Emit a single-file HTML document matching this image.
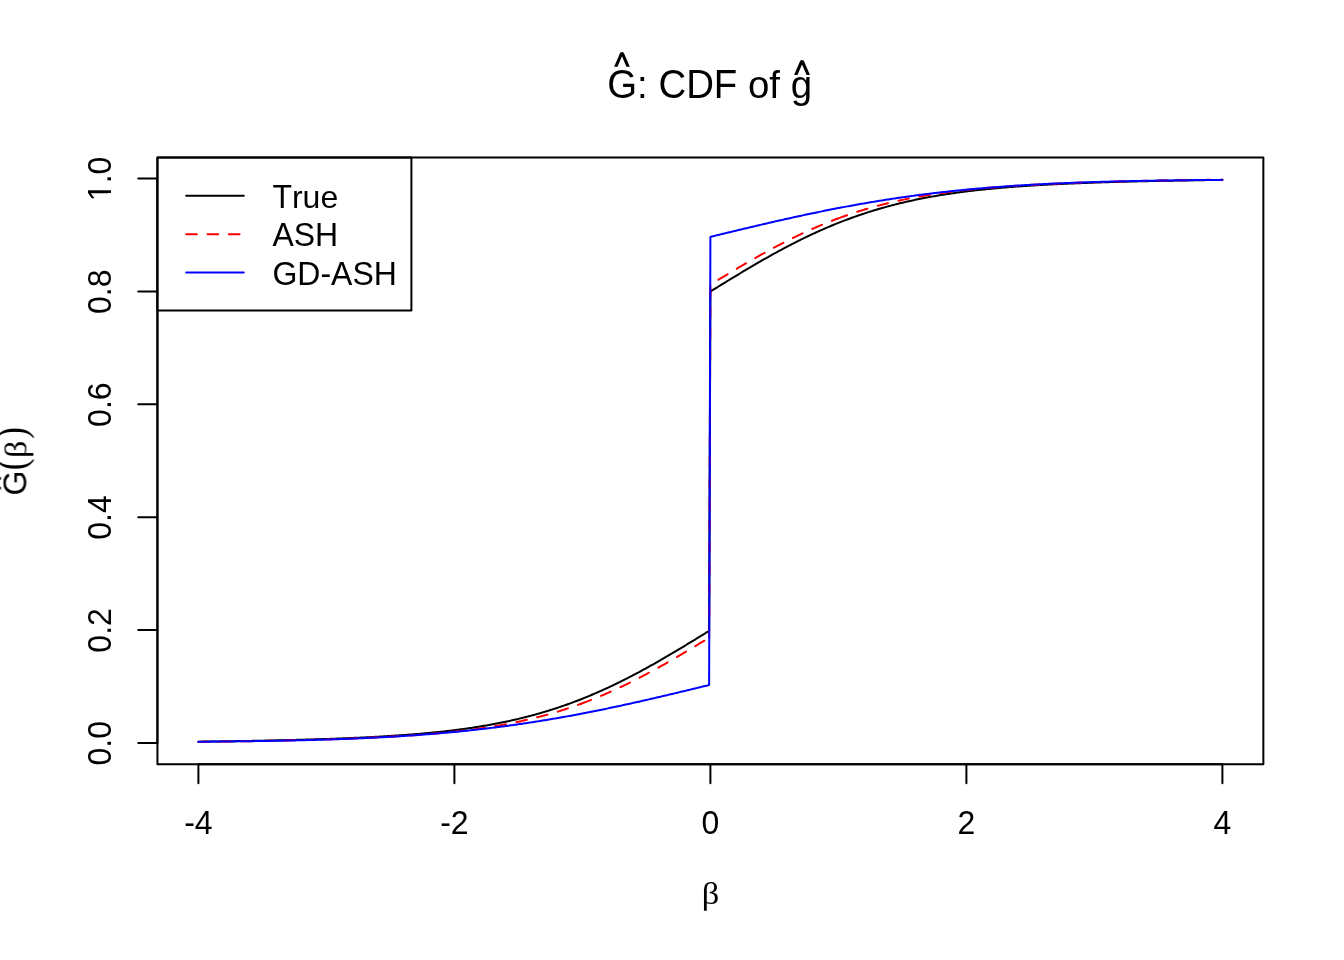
<!DOCTYPE html>
<html><head><meta charset="utf-8"><style>html,body{margin:0;padding:0;background:#fff;overflow:hidden}svg{display:block}</style></head>
<body>
<svg width="1344" height="960" viewBox="0 0 1344 960">
<rect width="1344" height="960" fill="#fff"/>
<defs><clipPath id="pc"><rect x="157.44" y="157.44" width="1105.9199999999998" height="606.72"/></clipPath></defs>
<g clip-path="url(#pc)" fill="none" stroke-width="2" stroke-linejoin="round" stroke-linecap="round">
<polyline points="198.40,741.68 199.68,741.67 200.96,741.65 202.24,741.63 203.52,741.62 204.80,741.60 206.08,741.59 207.36,741.57 208.64,741.55 209.92,741.53 211.20,741.52 212.48,741.50 213.76,741.48 215.04,741.47 216.32,741.45 217.60,741.43 218.88,741.41 220.16,741.39 221.44,741.37 222.72,741.36 224.00,741.34 225.28,741.32 226.56,741.30 227.84,741.28 229.12,741.26 230.40,741.24 231.68,741.22 232.96,741.20 234.24,741.18 235.52,741.16 236.80,741.14 238.08,741.12 239.36,741.09 240.64,741.07 241.92,741.05 243.20,741.03 244.48,741.01 245.76,740.98 247.04,740.96 248.32,740.94 249.60,740.92 250.88,740.89 252.16,740.87 253.44,740.84 254.72,740.82 256.00,740.80 257.28,740.77 258.56,740.75 259.84,740.72 261.12,740.70 262.40,740.67 263.68,740.64 264.96,740.62 266.24,740.59 267.52,740.56 268.80,740.54 270.08,740.51 271.36,740.48 272.64,740.45 273.92,740.43 275.20,740.40 276.48,740.37 277.76,740.34 279.04,740.31 280.32,740.28 281.60,740.25 282.88,740.22 284.16,740.19 285.44,740.16 286.72,740.13 288.00,740.10 289.28,740.06 290.56,740.03 291.84,740.00 293.12,739.97 294.40,739.93 295.68,739.90 296.96,739.87 298.24,739.83 299.52,739.80 300.80,739.76 302.08,739.73 303.36,739.69 304.64,739.65 305.92,739.62 307.20,739.58 308.48,739.54 309.76,739.50 311.04,739.47 312.32,739.43 313.60,739.39 314.88,739.35 316.16,739.31 317.44,739.27 318.72,739.23 320.00,739.19 321.28,739.14 322.56,739.10 323.84,739.06 325.12,739.01 326.40,738.97 327.68,738.93 328.96,738.88 330.24,738.84 331.52,738.79 332.80,738.74 334.08,738.70 335.36,738.65 336.64,738.60 337.92,738.55 339.20,738.50 340.48,738.45 341.76,738.40 343.04,738.35 344.32,738.30 345.60,738.25 346.88,738.20 348.16,738.14 349.44,738.09 350.72,738.04 352.00,737.98 353.28,737.92 354.56,737.87 355.84,737.81 357.12,737.75 358.40,737.69 359.68,737.63 360.96,737.57 362.24,737.51 363.52,737.45 364.80,737.39 366.08,737.32 367.36,737.26 368.64,737.20 369.92,737.13 371.20,737.06 372.48,737.00 373.76,736.93 375.04,736.86 376.32,736.79 377.60,736.72 378.88,736.65 380.16,736.57 381.44,736.50 382.72,736.43 384.00,736.35 385.28,736.27 386.56,736.20 387.84,736.12 389.12,736.04 390.40,735.96 391.68,735.87 392.96,735.79 394.24,735.71 395.52,735.62 396.80,735.54 398.08,735.45 399.36,735.36 400.64,735.27 401.92,735.18 403.20,735.09 404.48,734.99 405.76,734.90 407.04,734.80 408.32,734.71 409.60,734.61 410.88,734.51 412.16,734.41 413.44,734.31 414.72,734.20 416.00,734.10 417.28,733.99 418.56,733.88 419.84,733.77 421.12,733.66 422.40,733.55 423.68,733.43 424.96,733.32 426.24,733.20 427.52,733.08 428.80,732.96 430.08,732.84 431.36,732.71 432.64,732.59 433.92,732.46 435.20,732.33 436.48,732.20 437.76,732.07 439.04,731.93 440.32,731.80 441.60,731.66 442.88,731.52 444.16,731.37 445.44,731.23 446.72,731.08 448.00,730.94 449.28,730.79 450.56,730.63 451.84,730.48 453.12,730.32 454.40,730.16 455.68,730.00 456.96,729.84 458.24,729.68 459.52,729.51 460.80,729.34 462.08,729.17 463.36,728.99 464.64,728.82 465.92,728.64 467.20,728.45 468.48,728.27 469.76,728.08 471.04,727.90 472.32,727.70 473.60,727.51 474.88,727.31 476.16,727.11 477.44,726.91 478.72,726.71 480.00,726.50 481.28,726.29 482.56,726.08 483.84,725.86 485.12,725.64 486.40,725.42 487.68,725.20 488.96,724.97 490.24,724.74 491.52,724.51 492.80,724.27 494.08,724.03 495.36,723.79 496.64,723.54 497.92,723.29 499.20,723.04 500.48,722.79 501.76,722.53 503.04,722.27 504.32,722.00 505.60,721.74 506.88,721.46 508.16,721.19 509.44,720.91 510.72,720.63 512.00,720.35 513.28,720.06 514.56,719.77 515.84,719.47 517.12,719.17 518.40,718.87 519.68,718.56 520.96,718.25 522.24,717.94 523.52,717.62 524.80,717.30 526.08,716.98 527.36,716.65 528.64,716.32 529.92,715.98 531.20,715.64 532.48,715.30 533.76,714.95 535.04,714.60 536.32,714.24 537.60,713.89 538.88,713.52 540.16,713.16 541.44,712.78 542.72,712.41 544.00,712.03 545.28,711.65 546.56,711.26 547.84,710.87 549.12,710.47 550.40,710.07 551.68,709.67 552.96,709.26 554.24,708.85 555.52,708.43 556.80,708.01 558.08,707.59 559.36,707.16 560.64,706.72 561.92,706.29 563.20,705.84 564.48,705.40 565.76,704.95 567.04,704.49 568.32,704.03 569.60,703.57 570.88,703.10 572.16,702.63 573.44,702.15 574.72,701.67 576.00,701.19 577.28,700.70 578.56,700.20 579.84,699.71 581.12,699.20 582.40,698.70 583.68,698.19 584.96,697.67 586.24,697.15 587.52,696.63 588.80,696.10 590.08,695.56 591.36,695.03 592.64,694.49 593.92,693.94 595.20,693.39 596.48,692.84 597.76,692.28 599.04,691.71 600.32,691.15 601.60,690.58 602.88,690.00 604.16,689.42 605.44,688.84 606.72,688.25 608.00,687.66 609.28,687.06 610.56,686.46 611.84,685.85 613.12,685.25 614.40,684.63 615.68,684.02 616.96,683.39 618.24,682.77 619.52,682.14 620.80,681.51 622.08,680.87 623.36,680.23 624.64,679.59 625.92,678.94 627.20,678.29 628.48,677.63 629.76,676.97 631.04,676.31 632.32,675.64 633.60,674.97 634.88,674.30 636.16,673.62 637.44,672.94 638.72,672.26 640.00,671.57 641.28,670.88 642.56,670.19 643.84,669.49 645.12,668.79 646.40,668.09 647.68,667.38 648.96,666.67 650.24,665.96 651.52,665.24 652.80,664.52 654.08,663.80 655.36,663.08 656.64,662.35 657.92,661.62 659.20,660.89 660.48,660.15 661.76,659.41 663.04,658.67 664.32,657.93 665.60,657.19 666.88,656.44 668.16,655.69 669.44,654.94 670.72,654.18 672.00,653.43 673.28,652.67 674.56,651.91 675.84,651.15 677.12,650.38 678.40,649.62 679.68,648.85 680.96,648.08 682.24,647.31 683.52,646.54 684.80,645.77 686.08,644.99 687.36,644.22 688.64,643.44 689.92,642.66 691.20,641.88 692.48,641.10 693.76,640.32 695.04,639.54 696.32,638.75 697.60,637.97 698.88,637.18 700.16,636.40 701.44,635.61 702.72,634.83 704.00,634.04 705.28,633.25 706.56,632.46 707.84,631.68 709.12,630.89 710.40,291.49 711.68,290.70 712.96,289.91 714.24,289.13 715.52,288.34 716.80,287.55 718.08,286.76 719.36,285.98 720.64,285.19 721.92,284.41 723.20,283.62 724.48,282.84 725.76,282.05 727.04,281.27 728.32,280.49 729.60,279.71 730.88,278.93 732.16,278.15 733.44,277.37 734.72,276.60 736.00,275.82 737.28,275.05 738.56,274.28 739.84,273.51 741.12,272.74 742.40,271.97 743.68,271.21 744.96,270.44 746.24,269.68 747.52,268.92 748.80,268.16 750.08,267.41 751.36,266.65 752.64,265.90 753.92,265.15 755.20,264.40 756.48,263.66 757.76,262.92 759.04,262.18 760.32,261.44 761.60,260.70 762.88,259.97 764.16,259.24 765.44,258.51 766.72,257.79 768.00,257.07 769.28,256.35 770.56,255.63 771.84,254.92 773.12,254.21 774.40,253.50 775.68,252.80 776.96,252.10 778.24,251.40 779.52,250.71 780.80,250.02 782.08,249.33 783.36,248.65 784.64,247.97 785.92,247.29 787.20,246.62 788.48,245.95 789.76,245.28 791.04,244.62 792.32,243.96 793.60,243.30 794.88,242.65 796.16,242.00 797.44,241.36 798.72,240.72 800.00,240.08 801.28,239.45 802.56,238.82 803.84,238.20 805.12,237.57 806.40,236.96 807.68,236.34 808.96,235.74 810.24,235.13 811.52,234.53 812.80,233.93 814.08,233.34 815.36,232.75 816.64,232.17 817.92,231.59 819.20,231.01 820.48,230.44 821.76,229.88 823.04,229.31 824.32,228.75 825.60,228.20 826.88,227.65 828.16,227.10 829.44,226.56 830.72,226.03 832.00,225.49 833.28,224.96 834.56,224.44 835.84,223.92 837.12,223.40 838.40,222.89 839.68,222.39 840.96,221.88 842.24,221.39 843.52,220.89 844.80,220.40 846.08,219.92 847.36,219.44 848.64,218.96 849.92,218.49 851.20,218.02 852.48,217.56 853.76,217.10 855.04,216.64 856.32,216.19 857.60,215.75 858.88,215.30 860.16,214.87 861.44,214.43 862.72,214.00 864.00,213.58 865.28,213.16 866.56,212.74 867.84,212.33 869.12,211.92 870.40,211.52 871.68,211.12 872.96,210.72 874.24,210.33 875.52,209.94 876.80,209.56 878.08,209.18 879.36,208.81 880.64,208.43 881.92,208.07 883.20,207.70 884.48,207.35 885.76,206.99 887.04,206.64 888.32,206.29 889.60,205.95 890.88,205.61 892.16,205.27 893.44,204.94 894.72,204.61 896.00,204.29 897.28,203.97 898.56,203.65 899.84,203.34 901.12,203.03 902.40,202.72 903.68,202.42 904.96,202.12 906.24,201.82 907.52,201.53 908.80,201.24 910.08,200.96 911.36,200.68 912.64,200.40 913.92,200.13 915.20,199.85 916.48,199.59 917.76,199.32 919.04,199.06 920.32,198.80 921.60,198.55 922.88,198.30 924.16,198.05 925.44,197.80 926.72,197.56 928.00,197.32 929.28,197.08 930.56,196.85 931.84,196.62 933.12,196.39 934.40,196.17 935.68,195.95 936.96,195.73 938.24,195.51 939.52,195.30 940.80,195.09 942.08,194.88 943.36,194.68 944.64,194.48 945.92,194.28 947.20,194.08 948.48,193.89 949.76,193.69 951.04,193.51 952.32,193.32 953.60,193.14 954.88,192.95 956.16,192.77 957.44,192.60 958.72,192.42 960.00,192.25 961.28,192.08 962.56,191.91 963.84,191.75 965.12,191.59 966.40,191.43 967.68,191.27 968.96,191.11 970.24,190.96 971.52,190.80 972.80,190.65 974.08,190.51 975.36,190.36 976.64,190.22 977.92,190.07 979.20,189.93 980.48,189.79 981.76,189.66 983.04,189.52 984.32,189.39 985.60,189.26 986.88,189.13 988.16,189.00 989.44,188.88 990.72,188.75 992.00,188.63 993.28,188.51 994.56,188.39 995.84,188.27 997.12,188.16 998.40,188.04 999.68,187.93 1000.96,187.82 1002.24,187.71 1003.52,187.60 1004.80,187.49 1006.08,187.39 1007.36,187.28 1008.64,187.18 1009.92,187.08 1011.20,186.98 1012.48,186.88 1013.76,186.79 1015.04,186.69 1016.32,186.60 1017.60,186.50 1018.88,186.41 1020.16,186.32 1021.44,186.23 1022.72,186.14 1024.00,186.05 1025.28,185.97 1026.56,185.88 1027.84,185.80 1029.12,185.72 1030.40,185.63 1031.68,185.55 1032.96,185.47 1034.24,185.39 1035.52,185.32 1036.80,185.24 1038.08,185.16 1039.36,185.09 1040.64,185.02 1041.92,184.94 1043.20,184.87 1044.48,184.80 1045.76,184.73 1047.04,184.66 1048.32,184.59 1049.60,184.53 1050.88,184.46 1052.16,184.39 1053.44,184.33 1054.72,184.27 1056.00,184.20 1057.28,184.14 1058.56,184.08 1059.84,184.02 1061.12,183.96 1062.40,183.90 1063.68,183.84 1064.96,183.78 1066.24,183.72 1067.52,183.67 1068.80,183.61 1070.08,183.55 1071.36,183.50 1072.64,183.45 1073.92,183.39 1075.20,183.34 1076.48,183.29 1077.76,183.24 1079.04,183.19 1080.32,183.14 1081.60,183.09 1082.88,183.04 1084.16,182.99 1085.44,182.94 1086.72,182.89 1088.00,182.85 1089.28,182.80 1090.56,182.75 1091.84,182.71 1093.12,182.66 1094.40,182.62 1095.68,182.58 1096.96,182.53 1098.24,182.49 1099.52,182.45 1100.80,182.40 1102.08,182.36 1103.36,182.32 1104.64,182.28 1105.92,182.24 1107.20,182.20 1108.48,182.16 1109.76,182.12 1111.04,182.09 1112.32,182.05 1113.60,182.01 1114.88,181.97 1116.16,181.94 1117.44,181.90 1118.72,181.86 1120.00,181.83 1121.28,181.79 1122.56,181.76 1123.84,181.72 1125.12,181.69 1126.40,181.66 1127.68,181.62 1128.96,181.59 1130.24,181.56 1131.52,181.53 1132.80,181.49 1134.08,181.46 1135.36,181.43 1136.64,181.40 1137.92,181.37 1139.20,181.34 1140.48,181.31 1141.76,181.28 1143.04,181.25 1144.32,181.22 1145.60,181.19 1146.88,181.16 1148.16,181.14 1149.44,181.11 1150.72,181.08 1152.00,181.05 1153.28,181.03 1154.56,181.00 1155.84,180.97 1157.12,180.95 1158.40,180.92 1159.68,180.89 1160.96,180.87 1162.24,180.84 1163.52,180.82 1164.80,180.79 1166.08,180.77 1167.36,180.75 1168.64,180.72 1169.92,180.70 1171.20,180.67 1172.48,180.65 1173.76,180.63 1175.04,180.61 1176.32,180.58 1177.60,180.56 1178.88,180.54 1180.16,180.52 1181.44,180.50 1182.72,180.47 1184.00,180.45 1185.28,180.43 1186.56,180.41 1187.84,180.39 1189.12,180.37 1190.40,180.35 1191.68,180.33 1192.96,180.31 1194.24,180.29 1195.52,180.27 1196.80,180.25 1198.08,180.23 1199.36,180.22 1200.64,180.20 1201.92,180.18 1203.20,180.16 1204.48,180.14 1205.76,180.12 1207.04,180.11 1208.32,180.09 1209.60,180.07 1210.88,180.06 1212.16,180.04 1213.44,180.02 1214.72,180.00 1216.00,179.99 1217.28,179.97 1218.56,179.96 1219.84,179.94 1221.12,179.92 1222.40,179.91" stroke="#000"/>
<g stroke="#ff0000" stroke-dasharray="10.667 10.667" stroke-dashoffset="0">
<polyline points="198.40,741.90 199.68,741.89 200.96,741.87 202.24,741.86 203.52,741.84 204.80,741.83 206.08,741.81 207.36,741.80 208.64,741.78 209.92,741.77 211.20,741.75 212.48,741.74 213.76,741.72 215.04,741.70 216.32,741.69 217.60,741.67 218.88,741.65 220.16,741.64 221.44,741.62 222.72,741.60 224.00,741.59 225.28,741.57 226.56,741.55 227.84,741.53 229.12,741.52 230.40,741.50 231.68,741.48 232.96,741.46 234.24,741.44 235.52,741.42 236.80,741.40 238.08,741.38 239.36,741.36 240.64,741.34 241.92,741.32 243.20,741.30 244.48,741.28 245.76,741.26 247.04,741.24 248.32,741.22 249.60,741.20 250.88,741.18 252.16,741.15 253.44,741.13 254.72,741.11 256.00,741.09 257.28,741.06 258.56,741.04 259.84,741.02 261.12,740.99 262.40,740.97 263.68,740.94 264.96,740.92 266.24,740.90 267.52,740.87 268.80,740.85 270.08,740.82 271.36,740.79 272.64,740.77 273.92,740.74 275.20,740.72 276.48,740.69 277.76,740.66 279.04,740.63 280.32,740.61 281.60,740.58 282.88,740.55 284.16,740.52 285.44,740.49 286.72,740.46 288.00,740.44 289.28,740.41 290.56,740.38 291.84,740.35 293.12,740.31 294.40,740.28 295.68,740.25 296.96,740.22 298.24,740.19 299.52,740.16 300.80,740.12 302.08,740.09 303.36,740.06 304.64,740.02 305.92,739.99 307.20,739.96 308.48,739.92 309.76,739.89 311.04,739.85 312.32,739.81 313.60,739.78 314.88,739.74 316.16,739.70 317.44,739.67 318.72,739.63 320.00,739.59 321.28,739.55 322.56,739.51 323.84,739.47 325.12,739.43"/>
<polyline points="325.12,739.43 326.40,739.39 327.68,739.35 328.96,739.31 330.24,739.27 331.52,739.23 332.80,739.19 334.08,739.14 335.36,739.10 336.64,739.06 337.92,739.01 339.20,738.97 340.48,738.92 341.76,738.87 343.04,738.83 344.32,738.78 345.60,738.73 346.88,738.69 348.16,738.64 349.44,738.59 350.72,738.54 352.00,738.49 353.28,738.44 354.56,738.39 355.84,738.33 357.12,738.28 358.40,738.23 359.68,738.18 360.96,738.12 362.24,738.07 363.52,738.01 364.80,737.95 366.08,737.90 367.36,737.84 368.64,737.78 369.92,737.72 371.20,737.66 372.48,737.60 373.76,737.54 375.04,737.48 376.32,737.42 377.60,737.35 378.88,737.29 380.16,737.23 381.44,737.16 382.72,737.09 384.00,737.03 385.28,736.96 386.56,736.89 387.84,736.82 389.12,736.75 390.40,736.68 391.68,736.61 392.96,736.53 394.24,736.46 395.52,736.38 396.80,736.31 398.08,736.23 399.36,736.15 400.64,736.07 401.92,735.99 403.20,735.91 404.48,735.83 405.76,735.75 407.04,735.66 408.32,735.58 409.60,735.49 410.88,735.41 412.16,735.32 413.44,735.23 414.72,735.14 416.00,735.04 417.28,734.95 418.56,734.86 419.84,734.76 421.12,734.66 422.40,734.56 423.68,734.47 424.96,734.36 426.24,734.26 427.52,734.16 428.80,734.05 430.08,733.95 431.36,733.84 432.64,733.73 433.92,733.62 435.20,733.51 436.48,733.39 437.76,733.28 439.04,733.16 440.32,733.04 441.60,732.92 442.88,732.80 444.16,732.68 445.44,732.55 446.72,732.42 448.00,732.29 449.28,732.16 450.56,732.03 451.84,731.90 453.12,731.76"/>
<polyline points="453.12,731.76 454.40,731.62 455.68,731.48 456.96,731.34 458.24,731.20 459.52,731.05 460.80,730.91 462.08,730.76 463.36,730.60 464.64,730.45 465.92,730.29 467.20,730.14 468.48,729.98 469.76,729.81 471.04,729.65 472.32,729.48 473.60,729.31 474.88,729.14 476.16,728.97 477.44,728.79 478.72,728.61 480.00,728.43 481.28,728.25 482.56,728.06 483.84,727.87 485.12,727.68 486.40,727.49 487.68,727.29 488.96,727.09 490.24,726.89 491.52,726.68 492.80,726.48 494.08,726.27 495.36,726.05 496.64,725.84 497.92,725.62 499.20,725.40 500.48,725.17 501.76,724.94 503.04,724.71 504.32,724.48 505.60,724.24 506.88,724.00 508.16,723.76 509.44,723.51 510.72,723.26 512.00,723.01 513.28,722.75 514.56,722.49 515.84,722.23 517.12,721.97 518.40,721.70 519.68,721.42 520.96,721.15 522.24,720.87 523.52,720.58 524.80,720.30 526.08,720.01 527.36,719.71 528.64,719.41 529.92,719.11 531.20,718.81 532.48,718.50 533.76,718.18 535.04,717.87 536.32,717.55 537.60,717.22 538.88,716.89 540.16,716.56 541.44,716.23 542.72,715.89 544.00,715.54 545.28,715.19 546.56,714.84 547.84,714.49 549.12,714.12 550.40,713.76 551.68,713.39 552.96,713.02 554.24,712.64 555.52,712.26 556.80,711.88 558.08,711.49 559.36,711.09 560.64,710.70 561.92,710.29 563.20,709.89 564.48,709.48 565.76,709.06 567.04,708.64 568.32,708.22 569.60,707.79 570.88,707.36 572.16,706.92 573.44,706.48 574.72,706.03 576.00,705.58 577.28,705.13 578.56,704.67 579.84,704.20 581.12,703.74"/>
<polyline points="581.12,703.74 582.40,703.26 583.68,702.79 584.96,702.31 586.24,701.82 587.52,701.33 588.80,700.83 590.08,700.33 591.36,699.83 592.64,699.32 593.92,698.81 595.20,698.29 596.48,697.77 597.76,697.24 599.04,696.71 600.32,696.18 601.60,695.64 602.88,695.09 604.16,694.55 605.44,693.99 606.72,693.44 608.00,692.87 609.28,692.31 610.56,691.74 611.84,691.16 613.12,690.58 614.40,690.00 615.68,689.41 616.96,688.82 618.24,688.23 619.52,687.63 620.80,687.02 622.08,686.41 623.36,685.80 624.64,685.18 625.92,684.56 627.20,683.94 628.48,683.31 629.76,682.68 631.04,682.04 632.32,681.40 633.60,680.76 634.88,680.11 636.16,679.46 637.44,678.80 638.72,678.14 640.00,677.48 641.28,676.81 642.56,676.14 643.84,675.47 645.12,674.79 646.40,674.11 647.68,673.43 648.96,672.74 650.24,672.05 651.52,671.36 652.80,670.66 654.08,669.96 655.36,669.26 656.64,668.55 657.92,667.84 659.20,667.13 660.48,666.42 661.76,665.70 663.04,664.98 664.32,664.26 665.60,663.53 666.88,662.81 668.16,662.08 669.44,661.34 670.72,660.61 672.00,659.87 673.28,659.13 674.56,658.39 675.84,657.65 677.12,656.90 678.40,656.15 679.68,655.40 680.96,654.65 682.24,653.90 683.52,653.14 684.80,652.39 686.08,651.63 687.36,650.87 688.64,650.11 689.92,649.35 691.20,648.58 692.48,647.82 693.76,647.05 695.04,646.29 696.32,645.52 697.60,644.75 698.88,643.98 700.16,643.21 701.44,642.44 702.72,641.67 704.00,640.90 705.28,640.13 706.56,639.36 707.84,638.59 709.12,637.81"/>
<polyline points="709.12,637.81 710.40,284.55 711.68,283.78 712.96,283.00 714.24,282.23 715.52,281.46 716.80,280.69 718.08,279.92 719.36,279.15 720.64,278.38 721.92,277.61 723.20,276.84 724.48,276.07 725.76,275.30 727.04,274.54 728.32,273.77 729.60,273.01 730.88,272.24 732.16,271.48 733.44,270.72 734.72,269.96 736.00,269.20 737.28,268.45 738.56,267.69 739.84,266.94 741.12,266.19 742.40,265.44 743.68,264.69 744.96,263.94 746.24,263.20 747.52,262.46 748.80,261.72 750.08,260.98 751.36,260.25 752.64,259.51 753.92,258.78 755.20,258.06 756.48,257.33 757.76,256.61 759.04,255.89 760.32,255.17 761.60,254.46 762.88,253.75 764.16,253.04 765.44,252.33 766.72,251.63 768.00,250.93 769.28,250.23 770.56,249.54 771.84,248.85 773.12,248.16 774.40,247.48 775.68,246.80 776.96,246.12 778.24,245.45 779.52,244.78 780.80,244.11 782.08,243.45 783.36,242.79 784.64,242.13 785.92,241.48 787.20,240.83 788.48,240.19 789.76,239.55 791.04,238.91 792.32,238.28 793.60,237.65 794.88,237.03 796.16,236.41 797.44,235.79 798.72,235.18 800.00,234.57 801.28,233.96 802.56,233.36 803.84,232.77 805.12,232.18 806.40,231.59 807.68,231.01 808.96,230.43 810.24,229.85 811.52,229.28 812.80,228.72 814.08,228.15 815.36,227.60 816.64,227.04 817.92,226.50 819.20,225.95 820.48,225.41 821.76,224.88 823.04,224.35 824.32,223.82 825.60,223.30 826.88,222.78 828.16,222.27 829.44,221.76 830.72,221.26 832.00,220.76 833.28,220.26 834.56,219.77 835.84,219.28 837.12,218.80"/>
<polyline points="837.12,218.80 838.40,218.33 839.68,217.85 840.96,217.39 842.24,216.92 843.52,216.46 844.80,216.01 846.08,215.56 847.36,215.11 848.64,214.67 849.92,214.23 851.20,213.80 852.48,213.37 853.76,212.95 855.04,212.53 856.32,212.11 857.60,211.70 858.88,211.30 860.16,210.89 861.44,210.50 862.72,210.10 864.00,209.71 865.28,209.33 866.56,208.95 867.84,208.57 869.12,208.20 870.40,207.83 871.68,207.47 872.96,207.10 874.24,206.75 875.52,206.40 876.80,206.05 878.08,205.70 879.36,205.36 880.64,205.03 881.92,204.70 883.20,204.37 884.48,204.04 885.76,203.72 887.04,203.41 888.32,203.09 889.60,202.78 890.88,202.48 892.16,202.18 893.44,201.88 894.72,201.58 896.00,201.29 897.28,201.01 898.56,200.72 899.84,200.44 901.12,200.17 902.40,199.89 903.68,199.62 904.96,199.36 906.24,199.10 907.52,198.84 908.80,198.58 910.08,198.33 911.36,198.08 912.64,197.83 913.92,197.59 915.20,197.35 916.48,197.11 917.76,196.88 919.04,196.65 920.32,196.42 921.60,196.19 922.88,195.97 924.16,195.75 925.44,195.54 926.72,195.32 928.00,195.11 929.28,194.91 930.56,194.70 931.84,194.50 933.12,194.30 934.40,194.10 935.68,193.91 936.96,193.72 938.24,193.53 939.52,193.34 940.80,193.16 942.08,192.98 943.36,192.80 944.64,192.62 945.92,192.45 947.20,192.28 948.48,192.11 949.76,191.94 951.04,191.78 952.32,191.61 953.60,191.45 954.88,191.30 956.16,191.14 957.44,190.99 958.72,190.83 960.00,190.68 961.28,190.54 962.56,190.39 963.84,190.25 965.12,190.11"/>
<polyline points="965.12,190.11 966.40,189.97 967.68,189.83 968.96,189.69 970.24,189.56 971.52,189.43 972.80,189.30 974.08,189.17 975.36,189.04 976.64,188.91 977.92,188.79 979.20,188.67 980.48,188.55 981.76,188.43 983.04,188.31 984.32,188.20 985.60,188.08 986.88,187.97 988.16,187.86 989.44,187.75 990.72,187.64 992.00,187.54 993.28,187.43 994.56,187.33 995.84,187.23 997.12,187.12 998.40,187.03 999.68,186.93 1000.96,186.83 1002.24,186.73 1003.52,186.64 1004.80,186.55 1006.08,186.45 1007.36,186.36 1008.64,186.27 1009.92,186.18 1011.20,186.10 1012.48,186.01 1013.76,185.93 1015.04,185.84 1016.32,185.76 1017.60,185.68 1018.88,185.60 1020.16,185.52 1021.44,185.44 1022.72,185.36 1024.00,185.28 1025.28,185.21 1026.56,185.13 1027.84,185.06 1029.12,184.98 1030.40,184.91 1031.68,184.84 1032.96,184.77 1034.24,184.70 1035.52,184.63 1036.80,184.56 1038.08,184.50 1039.36,184.43 1040.64,184.36 1041.92,184.30 1043.20,184.24 1044.48,184.17 1045.76,184.11 1047.04,184.05 1048.32,183.99 1049.60,183.93 1050.88,183.87 1052.16,183.81 1053.44,183.75 1054.72,183.69 1056.00,183.64 1057.28,183.58 1058.56,183.52 1059.84,183.47 1061.12,183.41 1062.40,183.36 1063.68,183.31 1064.96,183.26 1066.24,183.20 1067.52,183.15 1068.80,183.10 1070.08,183.05 1071.36,183.00 1072.64,182.95 1073.92,182.90 1075.20,182.86 1076.48,182.81 1077.76,182.76 1079.04,182.72 1080.32,182.67 1081.60,182.62 1082.88,182.58 1084.16,182.53 1085.44,182.49 1086.72,182.45 1088.00,182.40 1089.28,182.36 1090.56,182.32 1091.84,182.28 1093.12,182.24"/>
<polyline points="1093.12,182.24 1094.40,182.20 1095.68,182.16 1096.96,182.12 1098.24,182.08 1099.52,182.04 1100.80,182.00 1102.08,181.96 1103.36,181.92 1104.64,181.89 1105.92,181.85 1107.20,181.81 1108.48,181.78 1109.76,181.74 1111.04,181.70 1112.32,181.67 1113.60,181.63 1114.88,181.60 1116.16,181.57 1117.44,181.53 1118.72,181.50 1120.00,181.47 1121.28,181.43 1122.56,181.40 1123.84,181.37 1125.12,181.34 1126.40,181.31 1127.68,181.28 1128.96,181.24 1130.24,181.21 1131.52,181.18 1132.80,181.15 1134.08,181.13 1135.36,181.10 1136.64,181.07 1137.92,181.04 1139.20,181.01 1140.48,180.98 1141.76,180.96 1143.04,180.93 1144.32,180.90 1145.60,180.87 1146.88,180.85 1148.16,180.82 1149.44,180.80 1150.72,180.77 1152.00,180.74 1153.28,180.72 1154.56,180.69 1155.84,180.67 1157.12,180.65 1158.40,180.62 1159.68,180.60 1160.96,180.57 1162.24,180.55 1163.52,180.53 1164.80,180.50 1166.08,180.48 1167.36,180.46 1168.64,180.44 1169.92,180.41 1171.20,180.39 1172.48,180.37 1173.76,180.35 1175.04,180.33 1176.32,180.31 1177.60,180.29 1178.88,180.27 1180.16,180.25 1181.44,180.23 1182.72,180.21 1184.00,180.19 1185.28,180.17 1186.56,180.15 1187.84,180.13 1189.12,180.11 1190.40,180.09 1191.68,180.07 1192.96,180.06 1194.24,180.04 1195.52,180.02 1196.80,180.00 1198.08,179.99 1199.36,179.97 1200.64,179.95 1201.92,179.94 1203.20,179.92 1204.48,179.90 1205.76,179.89 1207.04,179.87 1208.32,179.85 1209.60,179.84 1210.88,179.82 1212.16,179.81 1213.44,179.79 1214.72,179.78 1216.00,179.76 1217.28,179.75 1218.56,179.73 1219.84,179.72 1221.12,179.70"/>
<polyline points="1221.12,179.70 1222.40,179.69"/>
</g>
<polyline points="198.40,741.72 199.68,741.72 200.96,741.71 202.24,741.69 203.52,741.68 204.80,741.67 206.08,741.66 207.36,741.65 208.64,741.64 209.92,741.63 211.20,741.62 212.48,741.61 213.76,741.60 215.04,741.58 216.32,741.57 217.60,741.56 218.88,741.55 220.16,741.54 221.44,741.52 222.72,741.51 224.00,741.50 225.28,741.48 226.56,741.47 227.84,741.46 229.12,741.44 230.40,741.43 231.68,741.42 232.96,741.40 234.24,741.39 235.52,741.37 236.80,741.36 238.08,741.34 239.36,741.33 240.64,741.31 241.92,741.29 243.20,741.28 244.48,741.26 245.76,741.25 247.04,741.23 248.32,741.21 249.60,741.19 250.88,741.18 252.16,741.16 253.44,741.14 254.72,741.12 256.00,741.10 257.28,741.08 258.56,741.07 259.84,741.05 261.12,741.03 262.40,741.01 263.68,740.99 264.96,740.97 266.24,740.95 267.52,740.92 268.80,740.90 270.08,740.88 271.36,740.86 272.64,740.84 273.92,740.81 275.20,740.79 276.48,740.77 277.76,740.74 279.04,740.72 280.32,740.70 281.60,740.67 282.88,740.65 284.16,740.62 285.44,740.59 286.72,740.57 288.00,740.54 289.28,740.52 290.56,740.49 291.84,740.46 293.12,740.43 294.40,740.40 295.68,740.38 296.96,740.35 298.24,740.32 299.52,740.29 300.80,740.26 302.08,740.23 303.36,740.19 304.64,740.16 305.92,740.13 307.20,740.10 308.48,740.06 309.76,740.03 311.04,740.00 312.32,739.96 313.60,739.93 314.88,739.89 316.16,739.86 317.44,739.82 318.72,739.78 320.00,739.75 321.28,739.71 322.56,739.67 323.84,739.63 325.12,739.59 326.40,739.55 327.68,739.51 328.96,739.47 330.24,739.43 331.52,739.39 332.80,739.35 334.08,739.30 335.36,739.26 336.64,739.22 337.92,739.17 339.20,739.13 340.48,739.08 341.76,739.04 343.04,738.99 344.32,738.94 345.60,738.89 346.88,738.84 348.16,738.79 349.44,738.74 350.72,738.69 352.00,738.64 353.28,738.59 354.56,738.54 355.84,738.48 357.12,738.43 358.40,738.38 359.68,738.32 360.96,738.26 362.24,738.21 363.52,738.15 364.80,738.09 366.08,738.03 367.36,737.97 368.64,737.91 369.92,737.85 371.20,737.79 372.48,737.73 373.76,737.67 375.04,737.60 376.32,737.54 377.60,737.47 378.88,737.41 380.16,737.34 381.44,737.27 382.72,737.20 384.00,737.14 385.28,737.07 386.56,736.99 387.84,736.92 389.12,736.85 390.40,736.78 391.68,736.70 392.96,736.63 394.24,736.55 395.52,736.48 396.80,736.40 398.08,736.32 399.36,736.24 400.64,736.16 401.92,736.08 403.20,736.00 404.48,735.92 405.76,735.83 407.04,735.75 408.32,735.66 409.60,735.58 410.88,735.49 412.16,735.40 413.44,735.31 414.72,735.22 416.00,735.13 417.28,735.04 418.56,734.94 419.84,734.85 421.12,734.76 422.40,734.66 423.68,734.56 424.96,734.46 426.24,734.37 427.52,734.27 428.80,734.17 430.08,734.06 431.36,733.96 432.64,733.86 433.92,733.75 435.20,733.65 436.48,733.54 437.76,733.43 439.04,733.32 440.32,733.21 441.60,733.10 442.88,732.99 444.16,732.87 445.44,732.76 446.72,732.64 448.00,732.53 449.28,732.41 450.56,732.29 451.84,732.17 453.12,732.05 454.40,731.92 455.68,731.80 456.96,731.68 458.24,731.55 459.52,731.42 460.80,731.30 462.08,731.17 463.36,731.04 464.64,730.90 465.92,730.77 467.20,730.64 468.48,730.50 469.76,730.37 471.04,730.23 472.32,730.09 473.60,729.95 474.88,729.81 476.16,729.67 477.44,729.52 478.72,729.38 480.00,729.23 481.28,729.09 482.56,728.94 483.84,728.79 485.12,728.64 486.40,728.49 487.68,728.33 488.96,728.18 490.24,728.02 491.52,727.87 492.80,727.71 494.08,727.55 495.36,727.39 496.64,727.23 497.92,727.06 499.20,726.90 500.48,726.73 501.76,726.57 503.04,726.40 504.32,726.23 505.60,726.06 506.88,725.89 508.16,725.71 509.44,725.54 510.72,725.36 512.00,725.19 513.28,725.01 514.56,724.83 515.84,724.65 517.12,724.47 518.40,724.28 519.68,724.10 520.96,723.91 522.24,723.73 523.52,723.54 524.80,723.35 526.08,723.16 527.36,722.96 528.64,722.77 529.92,722.58 531.20,722.38 532.48,722.18 533.76,721.98 535.04,721.78 536.32,721.58 537.60,721.38 538.88,721.18 540.16,720.97 541.44,720.76 542.72,720.56 544.00,720.35 545.28,720.14 546.56,719.93 547.84,719.71 549.12,719.50 550.40,719.28 551.68,719.07 552.96,718.85 554.24,718.63 555.52,718.41 556.80,718.19 558.08,717.97 559.36,717.74 560.64,717.52 561.92,717.29 563.20,717.07 564.48,716.84 565.76,716.61 567.04,716.38 568.32,716.14 569.60,715.91 570.88,715.67 572.16,715.44 573.44,715.20 574.72,714.96 576.00,714.72 577.28,714.48 578.56,714.24 579.84,714.00 581.12,713.75 582.40,713.51 583.68,713.26 584.96,713.01 586.24,712.77 587.52,712.52 588.80,712.27 590.08,712.01 591.36,711.76 592.64,711.51 593.92,711.25 595.20,710.99 596.48,710.74 597.76,710.48 599.04,710.22 600.32,709.96 601.60,709.70 602.88,709.43 604.16,709.17 605.44,708.90 606.72,708.64 608.00,708.37 609.28,708.10 610.56,707.84 611.84,707.57 613.12,707.29 614.40,707.02 615.68,706.75 616.96,706.48 618.24,706.20 619.52,705.93 620.80,705.65 622.08,705.37 623.36,705.09 624.64,704.82 625.92,704.54 627.20,704.26 628.48,703.97 629.76,703.69 631.04,703.41 632.32,703.12 633.60,702.84 634.88,702.55 636.16,702.27 637.44,701.98 638.72,701.69 640.00,701.40 641.28,701.11 642.56,700.82 643.84,700.53 645.12,700.24 646.40,699.95 647.68,699.65 648.96,699.36 650.24,699.07 651.52,698.77 652.80,698.48 654.08,698.18 655.36,697.88 656.64,697.58 657.92,697.29 659.20,696.99 660.48,696.69 661.76,696.39 663.04,696.09 664.32,695.79 665.60,695.49 666.88,695.18 668.16,694.88 669.44,694.58 670.72,694.28 672.00,693.97 673.28,693.67 674.56,693.36 675.84,693.06 677.12,692.75 678.40,692.45 679.68,692.14 680.96,691.84 682.24,691.53 683.52,691.22 684.80,690.92 686.08,690.61 687.36,690.30 688.64,689.99 689.92,689.68 691.20,689.38 692.48,689.07 693.76,688.76 695.04,688.45 696.32,688.14 697.60,687.83 698.88,687.52 700.16,687.21 701.44,686.90 702.72,686.59 704.00,686.28 705.28,685.97 706.56,685.66 707.84,685.35 709.12,685.04 710.40,236.86 711.68,236.55 712.96,236.24 714.24,235.93 715.52,235.62 716.80,235.31 718.08,235.00 719.36,234.69 720.64,234.38 721.92,234.07 723.20,233.76 724.48,233.45 725.76,233.14 727.04,232.83 728.32,232.52 729.60,232.21 730.88,231.91 732.16,231.60 733.44,231.29 734.72,230.98 736.00,230.67 737.28,230.37 738.56,230.06 739.84,229.75 741.12,229.45 742.40,229.14 743.68,228.84 744.96,228.53 746.24,228.23 747.52,227.92 748.80,227.62 750.08,227.31 751.36,227.01 752.64,226.71 753.92,226.41 755.20,226.10 756.48,225.80 757.76,225.50 759.04,225.20 760.32,224.90 761.60,224.60 762.88,224.30 764.16,224.01 765.44,223.71 766.72,223.41 768.00,223.11 769.28,222.82 770.56,222.52 771.84,222.23 773.12,221.94 774.40,221.64 775.68,221.35 776.96,221.06 778.24,220.77 779.52,220.48 780.80,220.19 782.08,219.90 783.36,219.61 784.64,219.32 785.92,219.04 787.20,218.75 788.48,218.47 789.76,218.18 791.04,217.90 792.32,217.62 793.60,217.33 794.88,217.05 796.16,216.77 797.44,216.50 798.72,216.22 800.00,215.94 801.28,215.66 802.56,215.39 803.84,215.11 805.12,214.84 806.40,214.57 807.68,214.30 808.96,214.02 810.24,213.75 811.52,213.49 812.80,213.22 814.08,212.95 815.36,212.69 816.64,212.42 817.92,212.16 819.20,211.89 820.48,211.63 821.76,211.37 823.04,211.11 824.32,210.85 825.60,210.60 826.88,210.34 828.16,210.08 829.44,209.83 830.72,209.58 832.00,209.32 833.28,209.07 834.56,208.82 835.84,208.58 837.12,208.33 838.40,208.08 839.68,207.84 840.96,207.59 842.24,207.35 843.52,207.11 844.80,206.87 846.08,206.63 847.36,206.39 848.64,206.15 849.92,205.92 851.20,205.68 852.48,205.45 853.76,205.21 855.04,204.98 856.32,204.75 857.60,204.52 858.88,204.30 860.16,204.07 861.44,203.85 862.72,203.62 864.00,203.40 865.28,203.18 866.56,202.96 867.84,202.74 869.12,202.52 870.40,202.31 871.68,202.09 872.96,201.88 874.24,201.66 875.52,201.45 876.80,201.24 878.08,201.03 879.36,200.83 880.64,200.62 881.92,200.41 883.20,200.21 884.48,200.01 885.76,199.81 887.04,199.61 888.32,199.41 889.60,199.21 890.88,199.01 892.16,198.82 893.44,198.63 894.72,198.43 896.00,198.24 897.28,198.05 898.56,197.86 899.84,197.68 901.12,197.49 902.40,197.31 903.68,197.12 904.96,196.94 906.24,196.76 907.52,196.58 908.80,196.40 910.08,196.23 911.36,196.05 912.64,195.88 913.92,195.70 915.20,195.53 916.48,195.36 917.76,195.19 919.04,195.02 920.32,194.86 921.60,194.69 922.88,194.53 924.16,194.36 925.44,194.20 926.72,194.04 928.00,193.88 929.28,193.72 930.56,193.57 931.84,193.41 933.12,193.26 934.40,193.10 935.68,192.95 936.96,192.80 938.24,192.65 939.52,192.50 940.80,192.36 942.08,192.21 943.36,192.07 944.64,191.92 945.92,191.78 947.20,191.64 948.48,191.50 949.76,191.36 951.04,191.22 952.32,191.09 953.60,190.95 954.88,190.82 956.16,190.69 957.44,190.55 958.72,190.42 960.00,190.29 961.28,190.17 962.56,190.04 963.84,189.91 965.12,189.79 966.40,189.67 967.68,189.54 968.96,189.42 970.24,189.30 971.52,189.18 972.80,189.06 974.08,188.95 975.36,188.83 976.64,188.72 977.92,188.60 979.20,188.49 980.48,188.38 981.76,188.27 983.04,188.16 984.32,188.05 985.60,187.94 986.88,187.84 988.16,187.73 989.44,187.63 990.72,187.53 992.00,187.42 993.28,187.32 994.56,187.22 995.84,187.13 997.12,187.03 998.40,186.93 999.68,186.83 1000.96,186.74 1002.24,186.65 1003.52,186.55 1004.80,186.46 1006.08,186.37 1007.36,186.28 1008.64,186.19 1009.92,186.10 1011.20,186.01 1012.48,185.93 1013.76,185.84 1015.04,185.76 1016.32,185.67 1017.60,185.59 1018.88,185.51 1020.16,185.43 1021.44,185.35 1022.72,185.27 1024.00,185.19 1025.28,185.11 1026.56,185.04 1027.84,184.96 1029.12,184.89 1030.40,184.81 1031.68,184.74 1032.96,184.67 1034.24,184.60 1035.52,184.52 1036.80,184.45 1038.08,184.39 1039.36,184.32 1040.64,184.25 1041.92,184.18 1043.20,184.12 1044.48,184.05 1045.76,183.99 1047.04,183.92 1048.32,183.86 1049.60,183.80 1050.88,183.74 1052.16,183.68 1053.44,183.62 1054.72,183.56 1056.00,183.50 1057.28,183.44 1058.56,183.38 1059.84,183.33 1061.12,183.27 1062.40,183.21 1063.68,183.16 1064.96,183.11 1066.24,183.05 1067.52,183.00 1068.80,182.95 1070.08,182.90 1071.36,182.85 1072.64,182.80 1073.92,182.75 1075.20,182.70 1076.48,182.65 1077.76,182.60 1079.04,182.55 1080.32,182.51 1081.60,182.46 1082.88,182.42 1084.16,182.37 1085.44,182.33 1086.72,182.29 1088.00,182.24 1089.28,182.20 1090.56,182.16 1091.84,182.12 1093.12,182.08 1094.40,182.04 1095.68,182.00 1096.96,181.96 1098.24,181.92 1099.52,181.88 1100.80,181.84 1102.08,181.81 1103.36,181.77 1104.64,181.73 1105.92,181.70 1107.20,181.66 1108.48,181.63 1109.76,181.59 1111.04,181.56 1112.32,181.53 1113.60,181.49 1114.88,181.46 1116.16,181.43 1117.44,181.40 1118.72,181.36 1120.00,181.33 1121.28,181.30 1122.56,181.27 1123.84,181.24 1125.12,181.21 1126.40,181.19 1127.68,181.16 1128.96,181.13 1130.24,181.10 1131.52,181.07 1132.80,181.05 1134.08,181.02 1135.36,181.00 1136.64,180.97 1137.92,180.94 1139.20,180.92 1140.48,180.89 1141.76,180.87 1143.04,180.85 1144.32,180.82 1145.60,180.80 1146.88,180.78 1148.16,180.75 1149.44,180.73 1150.72,180.71 1152.00,180.69 1153.28,180.67 1154.56,180.64 1155.84,180.62 1157.12,180.60 1158.40,180.58 1159.68,180.56 1160.96,180.54 1162.24,180.52 1163.52,180.51 1164.80,180.49 1166.08,180.47 1167.36,180.45 1168.64,180.43 1169.92,180.41 1171.20,180.40 1172.48,180.38 1173.76,180.36 1175.04,180.34 1176.32,180.33 1177.60,180.31 1178.88,180.30 1180.16,180.28 1181.44,180.26 1182.72,180.25 1184.00,180.23 1185.28,180.22 1186.56,180.20 1187.84,180.19 1189.12,180.17 1190.40,180.16 1191.68,180.15 1192.96,180.13 1194.24,180.12 1195.52,180.11 1196.80,180.09 1198.08,180.08 1199.36,180.07 1200.64,180.05 1201.92,180.04 1203.20,180.03 1204.48,180.02 1205.76,180.01 1207.04,179.99 1208.32,179.98 1209.60,179.97 1210.88,179.96 1212.16,179.95 1213.44,179.94 1214.72,179.93 1216.00,179.92 1217.28,179.91 1218.56,179.90 1219.84,179.88 1221.12,179.87 1222.40,179.87" stroke="#0000ff"/>
</g>
<path d="M198.40 764.16V783.36M454.40 764.16V783.36M710.40 764.16V783.36M966.40 764.16V783.36M1222.40 764.16V783.36M198.40 764.16H1222.40M157.44 742.97H138.24M157.44 630.10H138.24M157.44 517.23H138.24M157.44 404.36H138.24M157.44 291.49H138.24M157.44 178.62H138.24M157.44 742.97V178.62" stroke="#000" stroke-width="2" fill="none" stroke-linecap="round"/>
<rect x="157.44" y="157.44" width="253.96" height="153.16" fill="#fff" stroke="#000" stroke-width="2" stroke-linejoin="round"/>
<rect x="157.44" y="157.44" width="1105.92" height="606.72" fill="none" stroke="#000" stroke-width="2" stroke-linejoin="round"/>
<g stroke-width="2" stroke-linecap="round">
<line x1="186.2" y1="195.8" x2="243.8" y2="195.8" stroke="#000"/>
<line x1="186.2" y1="234.3" x2="243.8" y2="234.3" stroke="#ff0000" stroke-dasharray="10.667 10.667"/>
<line x1="186.2" y1="272.6" x2="243.8" y2="272.6" stroke="#0000ff"/>
</g>
<g font-family="Liberation Sans, sans-serif" font-size="32" fill="#000" style="will-change:transform;font-kerning:none">
<text transform="translate(272.40 207.90) scale(1 1.043)" font-size="32">T</text>
<text x="291.95" y="207.90" font-size="32">rue</text>
<text transform="translate(272.40 246.20) scale(1 1.043)" font-size="32">ASH</text>
<text transform="translate(272.40 284.70) scale(1 1.043)" font-size="32">GD-ASH</text>
<text transform="translate(198.40 833.90) scale(1 1.043)" text-anchor="middle">-4</text>
<text transform="translate(454.40 833.90) scale(1 1.043)" text-anchor="middle">-2</text>
<text transform="translate(710.40 833.90) scale(1 1.043)" text-anchor="middle">0</text>
<text transform="translate(966.40 833.90) scale(1 1.043)" text-anchor="middle">2</text>
<text transform="translate(1222.40 833.90) scale(1 1.043)" text-anchor="middle">4</text>
<text transform="translate(111.1 743.27) rotate(-90) scale(1 1.043)" text-anchor="middle">0.0</text>
<text transform="translate(111.1 630.40) rotate(-90) scale(1 1.043)" text-anchor="middle">0.2</text>
<text transform="translate(111.1 517.53) rotate(-90) scale(1 1.043)" text-anchor="middle">0.4</text>
<text transform="translate(111.1 404.66) rotate(-90) scale(1 1.043)" text-anchor="middle">0.6</text>
<text transform="translate(111.1 291.79) rotate(-90) scale(1 1.043)" text-anchor="middle">0.8</text>
<clipPath id="c1"><rect x="-40" y="-40" width="80" height="36.809"/><rect x="-14.193" y="-3.891" width="2.828" height="4"/><rect x="-5.052" y="-40" width="40" height="80"/></clipPath>
<text transform="translate(111.1 178.92) rotate(-90) scale(1 1.043)" text-anchor="middle" clip-path="url(#c1)">1.0</text>
<text transform="translate(607.20 97.70) scale(1 1.043)" font-size="38.4">G</text>
<text x="637.07" y="97.70" font-size="38.4">: </text>
<text transform="translate(658.41 97.70) scale(1 1.043)" font-size="38.4">CDF </text>
<text x="747.99" y="97.70" font-size="38.4">of g</text>
</g>
<path d="M614.1 66.8L620.2 52.7Q622 51.3 623.8 52.7L629.8 66.8L626.4 66.8L622 56.2L617.5 66.8Z" fill="#000"/>
<path d="M794.1 75L800.2 60.7Q802 59.3 803.8 60.7L810 75L806.6 75L802 64.4L797.5 75Z" fill="#000"/>
<g style="will-change:transform"><text font-family="Liberation Serif, serif" font-size="32" transform="translate(710.65 903.8) scale(1.08 0.98)" text-anchor="middle">β</text></g>
<g transform="translate(26.4 461) rotate(-90)" style="will-change:transform;font-kerning:none">
<text font-family="Liberation Sans, sans-serif" font-size="32" transform="translate(-34.5 0) scale(1 1.043)">G</text>
<path d="M-28.83 -25.40L-23.58 -37.70L-20.92 -37.70L-15.75 -25.40L-18.58 -25.40L-22.25 -34.20L-26.00 -25.40Z" fill="#000"/>
<text font-family="Liberation Serif, serif" font-size="41.4" transform="translate(-9.25 -1.41) scale(0.85 1)">(</text>
<text font-family="Liberation Serif, serif" font-size="32" transform="translate(3.0 0.2) scale(1.07 0.98)">β</text>
<text font-family="Liberation Serif, serif" font-size="41.4" transform="translate(22.27 -1.41) scale(0.85 1)">)</text>
</g>
</svg>
</body></html>
